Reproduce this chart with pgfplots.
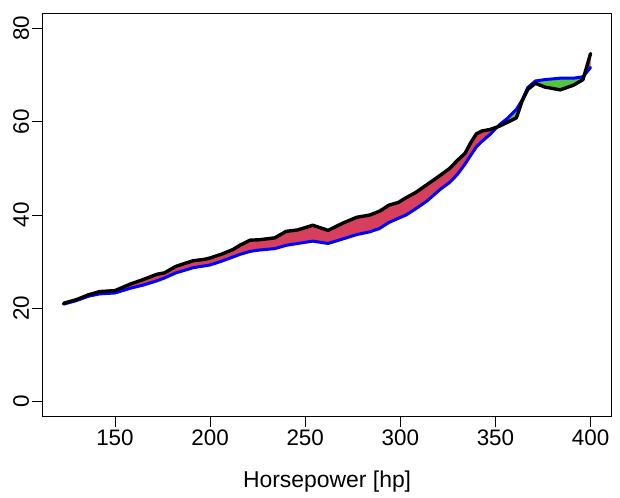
\documentclass[border=0pt]{standalone}
\usepackage{pgfplots}
\pgfplotsset{compat=1.18}
\usepgfplotslibrary{fillbetween}
\usetikzlibrary{calc}
\usepackage{fontspec}
\setmainfont{Liberation Sans}
\definecolor{fillred}{RGB}{214,64,92}
\definecolor{fillgreen}{RGB}{83,197,62}
\begin{document}
\begin{tikzpicture}
\begin{axis}[
  scale only axis,
  width=569.2bp, height=403.4bp,
  xmin=111.9, xmax=411.1, ymin=-3.2, ymax=83.2,
  xtick={150,200,250,300,350,400},
  ytick={0,20,40,60,80},
  tick pos=left,
  tick align=outside,
  major tick length=10bp,
  every tick/.style={black, line width=0.75bp},
  axis line style={black, line width=0.75bp},
  /pgf/number format/assume math mode=true,
  ticklabel style={font=\fontsize{22.5}{26}\selectfont},
  yticklabel style={rotate=90, anchor=south},
  xlabel={Horsepower [hp]},
  xlabel style={font=\fontsize{23}{27}\selectfont, at={(axis description cs:0.5,0)}, anchor=base, yshift=-71.3bp},
  clip=true,
]
\addplot[name path=black, draw=none, forget plot] coordinates {
(123,21.1) (130,21.9) (136,22.9) (142,23.6) (150,23.8) (158,25.2) (165,26.2) (172,27.3) (176,27.6) (182,29.0) (191,30.2) (197,30.5) (200,30.8) (206,31.6) (212,32.6) (216,33.6) (221,34.6) (226,34.7) (234,35.1) (240,36.5) (246,36.8) (254,37.8) (262,36.7) (270,38.3) (277,39.5) (284,40.0) (289,40.8) (294,42.1) (299,42.7) (303,43.7) (308,44.8) (314,46.5) (321,48.5) (326,50.0) (330,51.7) (334,53.2) (337,55.5) (340,57.4) (343,58.0) (347,58.3) (352,59.0) (356,59.8) (361,60.8) (364,64.4) (367,66.9) (371,68.2) (376,67.4) (384,66.8) (391,67.8) (396,69.0) (400,74.6)
};
\addplot[name path=blue, draw=none, forget plot] coordinates {
(123,20.9) (130,21.7) (136,22.6) (142,23.1) (150,23.3) (158,24.3) (165,25.0) (172,25.9) (176,26.5) (182,27.6) (191,28.7) (197,29.1) (200,29.3) (206,30.1) (212,31.0) (216,31.6) (221,32.2) (226,32.5) (234,32.8) (240,33.5) (246,33.9) (254,34.4) (262,33.9) (270,34.9) (277,35.8) (284,36.4) (289,37.1) (294,38.4) (299,39.3) (303,40.0) (308,41.3) (314,43.0) (321,45.5) (326,47.0) (330,48.7) (334,50.9) (337,52.8) (340,54.6) (343,55.8) (347,57.2) (352,59.3) (356,60.6) (361,62.6) (364,64.6) (367,67.3) (371,68.7) (376,69.0) (384,69.3) (391,69.3) (396,69.6) (400,71.6)
};
\addplot[draw=none] fill between[of=black and blue, split,
  every even segment/.style={fill=fillred},
  every odd segment/.style={fill=fillgreen}];
\addplot[blue, line width=3bp, line join=round, line cap=round] coordinates {
(123,20.9) (130,21.7) (136,22.6) (142,23.1) (150,23.3) (158,24.3) (165,25.0) (172,25.9) (176,26.5) (182,27.6) (191,28.7) (197,29.1) (200,29.3) (206,30.1) (212,31.0) (216,31.6) (221,32.2) (226,32.5) (234,32.8) (240,33.5) (246,33.9) (254,34.4) (262,33.9) (270,34.9) (277,35.8) (284,36.4) (289,37.1) (294,38.4) (299,39.3) (303,40.0) (308,41.3) (314,43.0) (321,45.5) (326,47.0) (330,48.7) (334,50.9) (337,52.8) (340,54.6) (343,55.8) (347,57.2) (352,59.3) (356,60.6) (361,62.6) (364,64.6) (367,67.3) (371,68.7) (376,69.0) (384,69.3) (391,69.3) (396,69.6) (400,71.6)
};
\addplot[black, line width=3.4bp, line join=round, line cap=round] coordinates {
(123,21.1) (130,21.9) (136,22.9) (142,23.6) (150,23.8) (158,25.2) (165,26.2) (172,27.3) (176,27.6) (182,29.0) (191,30.2) (197,30.5) (200,30.8) (206,31.6) (212,32.6) (216,33.6) (221,34.6) (226,34.7) (234,35.1) (240,36.5) (246,36.8) (254,37.8) (262,36.7) (270,38.3) (277,39.5) (284,40.0) (289,40.8) (294,42.1) (299,42.7) (303,43.7) (308,44.8) (314,46.5) (321,48.5) (326,50.0) (330,51.7) (334,53.2) (337,55.5) (340,57.4) (343,58.0) (347,58.3) (352,59.0) (356,59.8) (361,60.8) (364,64.4) (367,66.9) (371,68.2) (376,67.4) (384,66.8) (391,67.8) (396,69.0) (400,74.6)
};
\end{axis}
\pgfresetboundingbox
\path[use as bounding box] ($(current axis.south west)+(-42.5bp,-81.3bp)$) rectangle ($(current axis.north east)+(8.3bp,13.3bp)$);
\end{tikzpicture}
\end{document}
